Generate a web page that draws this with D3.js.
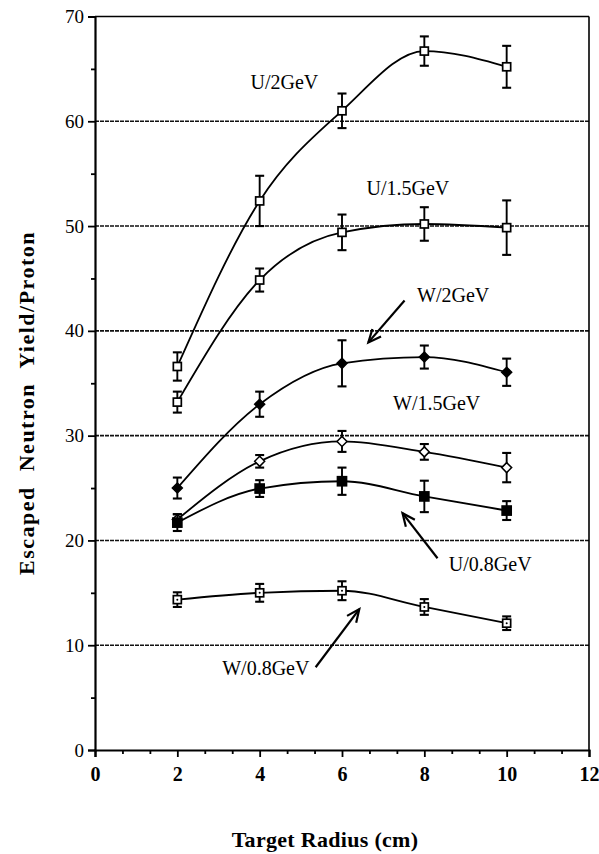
<!DOCTYPE html>
<html><head><meta charset="utf-8">
<script src="https://cdn.jsdelivr.net/npm/d3@7/dist/d3.min.js"></script>
<style>body{margin:0;background:#fff} text{font-family:"Liberation Serif","Times New Roman",serif;}</style>
</head><body><svg id="c" width="599" height="854"></svg>
<script>
const radius = [2, 4, 6, 8, 10];
const yTicks = [0, 10, 20, 30, 40, 50, 60, 70];
const xTicks = [0, 2, 4, 6, 8, 10, 12];
const gridVals = [10, 20, 30, 40, 50, 60];

const u2Val  = [36.6, 52.4, 61.0, 66.7, 65.2];
const u2Err  = [1.35, 2.4, 1.65, 1.4, 2.0];
const u15Val = [33.2, 44.85, 49.4, 50.2, 49.85];
const u15Err = [1.0, 1.1, 1.7, 1.6, 2.6];
const w2Val  = [25.0, 33.0, 36.9, 37.5, 36.05];
const w2Err  = [1.0, 1.2, 2.2, 1.1, 1.3];
const w15Val = [22.0, 27.55, 29.45, 28.45, 26.95];
const w15Err = [0.5, 0.6, 1.0, 0.75, 1.4];
const u08Val = [21.7, 24.95, 25.65, 24.2, 22.85];
const u08Err = [0.8, 0.8, 1.3, 1.5, 0.9];
const w08Val = [14.35, 15.0, 15.2, 13.65, 12.1];
const w08Err = [0.7, 0.85, 0.9, 0.75, 0.65];

const seriesNames = ["U/2GeV", "U/1.5GeV", "W/2GeV", "W/1.5GeV", "U/0.8GeV", "W/0.8GeV"];
const seriesVals = [u2Val, u15Val, w2Val, w15Val, u08Val, w08Val];
const seriesErrs = [u2Err, u15Err, w2Err, w15Err, u08Err, w08Err];
const seriesMarker = ["openSquare", "openSquare", "fillDiamond", "openDiamond", "fillSquare", "openSquareDot"];

// label anchor points (data units: radius, yield)
const labelX = [4.6, 7.6, 8.7, 8.3, 9.6, 4.15];
const labelY = [63.1, 53.0, 42.75, 32.45, 17.1, 7.15];
// arrows (data units)
const arrowFrom = [null, null, [7.52, 42.9], null, [8.32, 18.3], [5.36, 7.9]];
const arrowTo   = [null, null, [6.64, 38.9], null, [7.47, 22.6], [6.42, 13.45]];

const svg = d3.select("#c");
const x = d3.scaleLinear().domain([0, 12]).range([95, 589]);
const y = d3.scaleLinear().domain([0, 70]).range([750, 16.5]);
const serif = "'Liberation Serif','Times New Roman',serif";

// gridlines
svg.append("g").selectAll("line").data(gridVals).join("line")
  .attr("x1", x(0)).attr("x2", x(12))
  .attr("y1", d => y(d)).attr("y2", d => y(d))
  .attr("stroke", "#111").attr("stroke-width", 1.6).attr("stroke-dasharray", "4,1");

// frame top/right
svg.append("line").attr("x1", x(0)).attr("x2", x(12)).attr("y1", y(70)).attr("y2", y(70))
  .attr("stroke", "#000").attr("stroke-width", 1.6);
svg.append("line").attr("x1", x(12)).attr("x2", x(12)).attr("y1", y(70)).attr("y2", y(0))
  .attr("stroke", "#000").attr("stroke-width", 1.6);

// y axis
const yAx = svg.append("g").attr("transform", `translate(${x(0)},0)`)
  .call(d3.axisLeft(y).tickValues(yTicks).tickSize(7).tickPadding(4).tickFormat(d3.format("d")));
svg.append("g").attr("transform", `translate(${x(0)},0)`)
  .call(d3.axisLeft(y).tickValues(d3.range(5, 70, 10)).tickSize(4).tickFormat(""))
  .call(g => g.select(".domain").remove());
// x axis
const xAx = svg.append("g").attr("transform", `translate(0,${y(0)})`)
  .call(d3.axisBottom(x).tickValues(xTicks).tickSize(7).tickPadding(10).tickFormat(d3.format("d")));
svg.append("g").attr("transform", `translate(0,${y(0)})`)
  .call(d3.axisBottom(x).tickValues(d3.range(0, 12.01, 2/3).filter(v => Math.abs(v/2 - Math.round(v/2)) > 0.01)).tickSize(4).tickFormat(""))
  .call(g => g.select(".domain").remove());

svg.selectAll("g").attr("font-family", serif);
svg.selectAll(".domain").attr("stroke", "#000").attr("stroke-width", 2.2);
svg.selectAll(".tick line").attr("stroke", "#000").attr("stroke-width", 1.8);
yAx.selectAll("text").style("font-family", serif).attr("font-size", 19).attr("fill", "#000");
xAx.selectAll("text").style("font-family", serif).attr("font-size", 20).attr("font-weight", "bold").attr("fill", "#000");

// axis titles
svg.append("text").attr("x", 325).attr("y", 847).attr("text-anchor", "middle")
  .style("font-family", serif).attr("font-weight", "bold").attr("font-size", 22)
  .attr("letter-spacing", "0.3px").text("Target Radius (cm)");
svg.append("text").attr("transform", "translate(34,403) rotate(-90)").attr("text-anchor", "middle")
  .style("font-family", serif).attr("font-weight", "bold").attr("font-size", 22)
  .attr("letter-spacing", "1.5px").attr("word-spacing", "8px")
  .text("Escaped Neutron Yield/Proton");

// curves
const line = d3.line().x(d => x(d[0])).y(d => y(d[1])).curve(d3.curveMonotoneX);
seriesVals.forEach((vals, i) => {
  const pts = radius.map((r, j) => [r, vals[j]]);
  svg.append("path").attr("d", line(pts)).attr("fill", "none")
    .attr("stroke", "#000").attr("stroke-width", 1.8);
});

// error bars and markers
seriesVals.forEach((vals, i) => {
  const g = svg.append("g");
  radius.forEach((r, j) => {
    const cx = x(r), v = vals[j], e = seriesErrs[i][j];
    const yt = y(v + e), yb = y(v - e);
    g.append("line").attr("x1", cx).attr("x2", cx).attr("y1", yt).attr("y2", yb)
      .attr("stroke", "#000").attr("stroke-width", 1.9);
    [yt, yb].forEach(yy => g.append("line").attr("x1", cx - 4.5).attr("x2", cx + 4.5)
      .attr("y1", yy).attr("y2", yy).attr("stroke", "#000").attr("stroke-width", 2.1));
    const cy = y(v), m = seriesMarker[i];
    if (m.startsWith("openSquare") || m === "fillSquare") {
      const s = m === "fillSquare" ? 9 : 8;
      g.append("rect").attr("x", cx - s/2).attr("y", cy - s/2).attr("width", s).attr("height", s)
        .attr("fill", m === "fillSquare" ? "#000" : "#fff").attr("stroke", "#000").attr("stroke-width", 1.7);
      if (m === "openSquareDot") g.append("circle").attr("cx", cx).attr("cy", cy).attr("r", 1).attr("fill", "#000");
    } else {
      const s = 5;
      g.append("path").attr("d", `M${cx},${cy - s}L${cx + s},${cy}L${cx},${cy + s}L${cx - s},${cy}Z`)
        .attr("fill", m === "fillDiamond" ? "#000" : "#fff").attr("stroke", "#000").attr("stroke-width", 1.5);
    }
  });
});

// labels
seriesNames.forEach((n, i) => {
  svg.append("text").attr("x", x(labelX[i])).attr("y", y(labelY[i])).attr("text-anchor", "middle")
    .style("font-family", serif).attr("font-size", 20).attr("fill", "#000").text(n);
  if (arrowFrom[i]) {
    const x1 = x(arrowFrom[i][0]), y1 = y(arrowFrom[i][1]);
    const x2 = x(arrowTo[i][0]), y2 = y(arrowTo[i][1]);
    svg.append("line").attr("x1", x1).attr("y1", y1).attr("x2", x2).attr("y2", y2)
      .attr("stroke", "#000").attr("stroke-width", 2.2);
    const ang = Math.atan2(y2 - y1, x2 - x1), L = 14, h = 0.42;
    const p1 = [x2 - L * Math.cos(ang - h), y2 - L * Math.sin(ang - h)];
    const p2 = [x2 - L * Math.cos(ang + h), y2 - L * Math.sin(ang + h)];
    svg.append("path").attr("d", `M${p1}L${x2},${y2}L${p2}`).attr("fill", "none")
      .attr("stroke", "#000").attr("stroke-width", 2.2);
  }
});
</script></body></html>
